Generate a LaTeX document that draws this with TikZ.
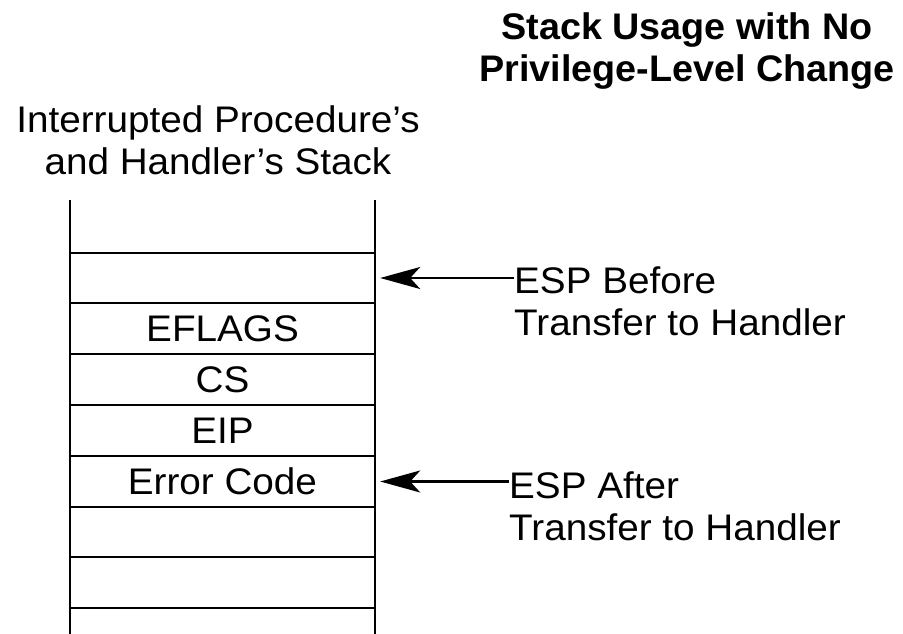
\documentclass[tikz,border=0pt]{standalone}
\usepackage{fontspec}
\setmainfont{Liberation Sans}[FakeStretch=1.045, BoldFeatures={FakeStretch=1.02}]
\usetikzlibrary{arrows.meta}
\begin{document}
\begin{tikzpicture}[x=1pt,y=-1pt,
  txt/.style={font=\fontsize{37}{42}\selectfont, inner sep=0pt},
  ttl/.style={font=\fontsize{37}{42}\selectfont\bfseries, inner sep=0pt, align=center},
  cell/.style={minimum width=305pt, minimum height=51pt, inner sep=0pt, txt},
  stk/.style={line width=2.6pt},
  arr/.style={line width=2.2pt, -{Stealth[length=40pt,width=22pt,inset=10pt]}, shorten >=5pt}]
\useasboundingbox (0,0) rectangle (903,634);
% title
\node[ttl] (title) at (687,51) {Stack Usage with No\\Privilege-Level Change};
\node[txt, align=center] (head) at (218,140) {Interrupted Procedure's\\and Handler's Stack};
% stack cells
\node[cell] (c1) at (222.5,278) {};
\node[cell] (c2) at (222.5,329) {EFLAGS};
\node[cell] (c3) at (222.5,380) {CS};
\node[cell] (c4) at (222.5,431) {EIP};
\node[cell] (c5) at (222.5,481.5) {Error Code};
\node[cell] (c6) at (222.5,532) {};
\node[cell] (c7) at (222.5,582.5) {};
% stack outline
\coordinate (tl) at (70,200);
\coordinate (tr) at (375,200);
\coordinate (bl) at (70,634);
\coordinate (br) at (375,634);
\draw[stk] (tl) -- (bl);
\draw[stk] (tr) -- (br);
\foreach \y in {253,303,354,405,456,507,557,608}{
  \draw[stk] (70,\y) -- (375,\y);
}
% labels and arrows
\node[txt, align=left, anchor=west] (before) at (514,301) {ESP Before\\Transfer to Handler};
\node[txt, align=left, anchor=west] (after) at (509,506) {ESP After\\Transfer to Handler};
\draw[arr] (before.west |- c1.east) -- (c1.east);
\draw[arr] (after.west |- c5.east) -- (c5.east);
\end{tikzpicture}
\end{document}
